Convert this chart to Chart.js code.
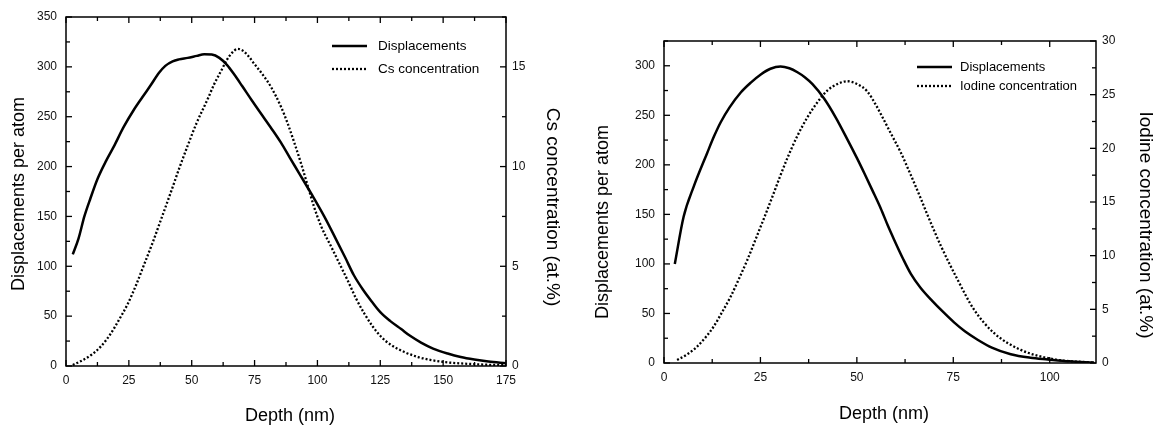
<!DOCTYPE html>
<html>
<head>
<meta charset="utf-8">
<script src="https://cdn.jsdelivr.net/npm/chart.js@4.4.0/dist/chart.umd.min.js"></script>
<style>
html,body{margin:0;padding:0;background:#fff;}
#wrap{position:relative;width:1155px;height:428px;}
.box{position:absolute;top:0;height:428px;}
#left{left:0;width:578px;}
#right{left:578px;width:577px;}
</style>
</head>
<body>
<div id="wrap">
  <div class="box" id="left"><canvas id="csChart"></canvas></div>
  <div class="box" id="right"><canvas id="iodineChart"></canvas></div>
</div>
<script>
// left panel : Cs implantation
var csDispDepth=[2.7,5,7.3,9.7,12.6,16,19,23,27,30.5,33.8,37,39.5,42.4,45,48.4,52,55,58,61,64,67,70,74,77.6,81.5,85.5,89,92.8,97.5,102.7,107,111,114.5,118,121.5,125,129,133.3,137,141.2,146,151.8,157,162.4,168,175];
var csDisp=[112,128,150,168,188,206,220,240,257,270,282,294,301,305.5,307.5,309,311,312.6,312.3,309,302,292,281,266,253,239,224,209,193,173,150,129,109,91,77,65,54,45,37,30,23.5,17.5,12.5,9,6.5,4.5,2.7];
var csConcDepth=[2.7,6,10,14,17.9,21,24.5,28,31.1,34.5,37.8,41.8,45,48.4,52,56.4,59,61.7,64,66,68.3,70.5,72.5,74.9,78,81.5,85.5,88.2,90.8,93.5,96,98.6,101.5,105.4,108.7,112,115.3,118.7,122,125.3,129,134.6,140,145.2,151,158.4,166,175];
var csConc=[0.05,0.25,0.55,1.0,1.64,2.3,3.1,4.1,5.1,6.2,7.35,8.75,9.9,11.05,12.2,13.4,14.15,14.8,15.35,15.7,15.9,15.8,15.55,15.15,14.65,14.0,13.0,12.15,11.2,10.15,9.1,8.0,7.0,6.0,5.15,4.3,3.4,2.62,1.98,1.47,1.08,0.7,0.45,0.3,0.19,0.12,0.07,0.04];
var csXTicks=[0,25,50,75,100,125,150,175];
var csYTicks=[0,50,100,150,200,250,300,350];
var csY1Ticks=[0,5,10,15];

// right panel : iodine implantation
var iDispDepth=[2.8,5.1,7.7,11.2,13,14.7,17,19.9,22.5,25,27.6,30.2,32.5,34.6,36.5,38.5,41.5,44.5,47.5,50,52,54,56.2,58,59.6,62,64,66.5,69.6,72.5,75.2,78,81.3,85,89.9,95,99.5,105,111.5];
var iDisp=[100,147.8,178,212,229,243,258,273,283,291,297,299.3,297.5,293.5,288.5,281.5,267,248,226,207,191,174.5,156,139,125,105,90,76,62.5,51,41,32,23.5,15.5,8.8,5.3,3.6,1.7,0.4];
var iConcDepth=[3.4,6,8.6,10.8,12.9,15,17.3,19.5,21.6,23.5,25.5,28,30,32,34.5,37.2,40,42.4,45,47.5,50,52.7,55,56.2,58.8,61.4,64,66.6,68.3,71.8,76.1,80.4,85.6,92.5,101.2,111.5];
var iConc=[0.28,0.8,1.53,2.4,3.4,4.7,6.2,7.9,9.6,11.3,13.1,15.4,17.3,19.1,21.1,22.9,24.4,25.4,26.0,26.25,26.0,25.3,24.0,23.2,21.4,19.6,17.5,15.3,13.8,10.9,7.77,4.96,2.78,1.22,0.34,0.03];
var iXTicks=[0,25,50,75,100];
var iYTicks=[0,50,100,150,200,250,300];
var iY1Ticks=[0,5,10,15,20,25,30];

var FONT='"Liberation Sans", Arial, Helvetica, sans-serif';

function pts(xs,ys){
  return xs.map(function(x,i){return {x:x,y:ys[i]};});
}

// box round the plot with inward ticks on all sides
var framePlugin={
  id:'frame',
  afterDraw:function(chart,args,opts){
    var ctx=chart.ctx, a=chart.chartArea;
    ctx.save();
    ctx.strokeStyle='#000';
    ctx.lineWidth=1.5;
    ctx.strokeRect(a.left,a.top,a.right-a.left,a.bottom-a.top);
    ctx.lineWidth=1.3;
    ['x','y','y1'].forEach(function(id){
      var s=chart.scales[id], st=opts[id];
      if(!s||!st)return;
      for(var v=s.min;v<=s.max+1e-6;v+=st[0]){
        var big=Math.abs(v/st[1]-Math.round(v/st[1]))<1e-6;
        var len=big?6:4;
        var p=s.getPixelForValue(v);
        ctx.beginPath();
        if(id==='x'){
          ctx.moveTo(p,a.bottom);ctx.lineTo(p,a.bottom-len);
          ctx.moveTo(p,a.top);ctx.lineTo(p,a.top+len);
        }else if(id==='y'){
          ctx.moveTo(a.left,p);ctx.lineTo(a.left+len,p);
        }else{
          ctx.moveTo(a.right,p);ctx.lineTo(a.right-len,p);
        }
        ctx.stroke();
      }
    });
    ctx.restore();
  }
};

// axis titles put where the original has them
var titlePlugin={
  id:'titles',
  afterDraw:function(chart,args,opts){
    var ctx=chart.ctx;
    (opts.items||[]).forEach(function(t){
      ctx.save();
      ctx.translate(t.x,t.y);
      ctx.rotate((t.rot||0)*Math.PI/180);
      ctx.font=(t.size||18)+'px '+FONT;
      ctx.fillStyle='#000';
      ctx.textAlign='center';
      ctx.textBaseline='middle';
      ctx.fillText(t.text,0,0);
      ctx.restore();
    });
  }
};

// line-sample legend inside the plot
var keyPlugin={
  id:'lineKey',
  afterDraw:function(chart,args,o){
    var ctx=chart.ctx;
    chart.data.datasets.forEach(function(ds,i){
      var y=o.ys[i];
      ctx.save();
      ctx.strokeStyle='#000';
      ctx.lineWidth=ds.borderWidth;
      ctx.setLineDash(ds.borderDash||[]);
      ctx.beginPath();ctx.moveTo(o.x0,y);ctx.lineTo(o.x1,y);ctx.stroke();
      ctx.setLineDash([]);
      ctx.font=o.size+'px '+FONT;
      ctx.fillStyle='#000';
      ctx.textBaseline='middle';
      ctx.fillText(ds.label,o.tx,y);
      ctx.restore();
    });
  }
};

function axis(pos,min,max,ticks,size,pad){
  return {
    type:'linear',position:pos,min:min,max:max,
    grid:{display:false,drawTicks:false},
    border:{display:false},
    afterBuildTicks:function(s){s.ticks=ticks.map(function(v){return {value:v};});},
    afterFit:function(s){ if(pos==='bottom'){s.height=size;}else{s.width=size;} },
    ticks:{color:'#111',padding:pad,font:{family:FONT,size:12}}
  };
}

function line(label,data,yid,dashed){
  return {
    label:label,data:data,yAxisID:yid,
    borderColor:'#000',borderWidth:dashed?2.3:2.5,
    borderDash:dashed?[2,2]:[],
    pointRadius:0,fill:false,
    cubicInterpolationMode:'monotone'
  };
}

function panel(id,cfg){
  new Chart(id,{
    type:'line',
    data:{datasets:[
      line('Displacements',pts(cfg.dx,cfg.dy),'y',false),
      line(cfg.concLabel,pts(cfg.cx,cfg.cy),'y1',true)
    ]},
    options:{
      responsive:true,maintainAspectRatio:false,animation:false,events:[],
      layout:{padding:{top:cfg.top,left:0,right:0,bottom:0}},
      scales:{
        x:axis('bottom',0,cfg.xmax,cfg.xt,cfg.xh,7),
        y:axis('left',0,cfg.ymax,cfg.yt,cfg.yw,9),
        y1:axis('right',0,cfg.y1max,cfg.y1t,cfg.y1w,6)
      },
      plugins:{
        legend:{display:false},
        tooltip:{enabled:false},
        frame:{x:[12.5,25],y:[25,50],y1:[2.5,5]},
        titles:{items:cfg.titles},
        lineKey:cfg.key
      }
    },
    plugins:[framePlugin,titlePlugin,keyPlugin]
  });
}

panel('csChart',{
  dx:csDispDepth,dy:csDisp,cx:csConcDepth,cy:csConc,
  concLabel:'Cs concentration',
  xmax:175,ymax:350,y1max:17.5,
  xt:csXTicks,yt:csYTicks,y1t:csY1Ticks,
  top:17,xh:62,yw:66,y1w:72,
  titles:[
    {text:'Displacements per atom',x:19,y:194,rot:-90},
    {text:'Cs concentration (at.%)',x:552,y:207,rot:90,size:19},
    {text:'Depth (nm)',x:290,y:416}
  ],
  key:{x0:332,x1:367,tx:378,ys:[46,69],size:13.5}
});

panel('iodineChart',{
  dx:iDispDepth,dy:iDisp,cx:iConcDepth,cy:iConc,
  concLabel:'Iodine concentration',
  xmax:112,ymax:325,y1max:30,
  xt:iXTicks,yt:iYTicks,y1t:iY1Ticks,
  top:41,xh:65,yw:86,y1w:59,
  titles:[
    {text:'Displacements per atom',x:25,y:222,rot:-90},
    {text:'Iodine concentration (at.%)',x:567,y:225,rot:90,size:19},
    {text:'Depth (nm)',x:306,y:414}
  ],
  key:{x0:339,x1:374,tx:382,ys:[67,86],size:13}
});
</script>
</body>
</html>
